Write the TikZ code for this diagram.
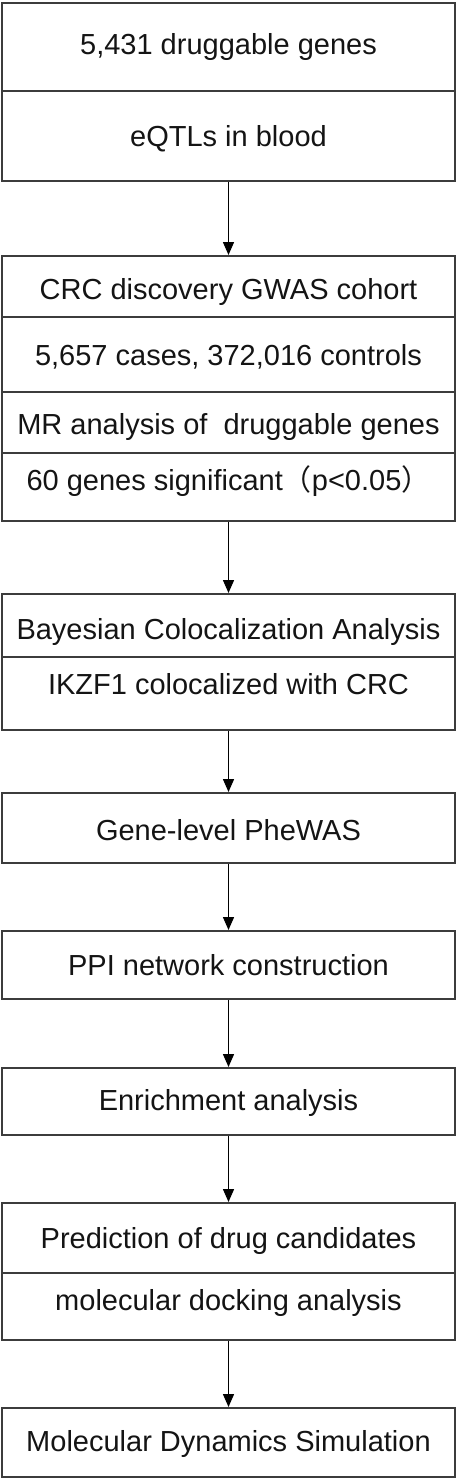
\documentclass[tikz,border=0pt]{standalone}
\usepackage{fontspec}
\setmainfont{Liberation Sans}
\newfontfamily\cjkfont{Noto Sans CJK SC}
\usetikzlibrary{arrows.meta}
\definecolor{boxgray}{HTML}{3C3C3C}
\definecolor{txtblack}{HTML}{141414}
\begin{document}
\begin{tikzpicture}[x=1pt,y=-1pt,
  cell/.style={draw=boxgray, line width=2pt, minimum width=453pt, inner sep=0pt,
    anchor=north, text=txtblack, font=\fontsize{29}{34}\selectfont,
    text height=21pt, text depth=0pt},
  arr/.style={draw=black, line width=1.5pt, -{Triangle[length=13pt,width=11pt]}}
]
\fill[white] (0,0) rectangle (456,1478);
\useasboundingbox (0,0) rectangle (456,1478);

\node[cell, minimum height=88pt, text depth=6pt] (a1) at (228.5,2) {5,431 druggable genes};
\node[cell, minimum height=90pt] (a2) at (228.5,90) {eQTLs in blood};

\node[cell, minimum height=61pt, text height=25pt] (b1) at (228.5,255) {CRC discovery GWAS cohort};
\node[cell, minimum height=75pt] (b2) at (228.5,316) {5,657 cases, 372,016 controls};
\node[cell, minimum height=61pt, text height=24pt] (b3) at (228.5,391) {MR analysis of\ \ druggable genes};
\node[cell, minimum height=68pt, text depth=14pt] (b4) at (228.5,452) {60 genes significant{\cjkfont （}p<0.05{\cjkfont ）}};

\node[cell, minimum height=63pt, text height=27pt] (c1) at (228.5,593) {Bayesian Colocalization Analysis};
\node[cell, minimum height=73pt, text depth=20pt] (c2) at (228.5,656) {IKZF1 colocalized with CRC};

\node[cell, minimum height=70pt, text height=25pt] (d) at (228.5,792) {Gene-level PheWAS};
\node[cell, minimum height=68pt] (e) at (228.5,930) {PPI network construction};
\node[cell, minimum height=67pt, text depth=4pt] (f) at (228.5,1067) {Enrichment analysis};

\node[cell, minimum height=70pt] (g1) at (228.5,1202) {Prediction of drug candidates};
\node[cell, minimum height=67pt, text depth=14pt] (g2) at (228.5,1272) {molecular docking analysis};

\node[cell, minimum height=69pt, text depth=4pt] (h) at (228.5,1407) {Molecular Dynamics Simulation};

\draw[arr] (a2.south) -- (b1.north);
\draw[arr] (b4.south) -- (c1.north);
\draw[arr] (c2.south) -- (d.north);
\draw[arr] (d.south) -- (e.north);
\draw[arr] (e.south) -- (f.north);
\draw[arr] (f.south) -- (g1.north);
\draw[arr] (g2.south) -- (h.north);
\end{tikzpicture}
\end{document}
